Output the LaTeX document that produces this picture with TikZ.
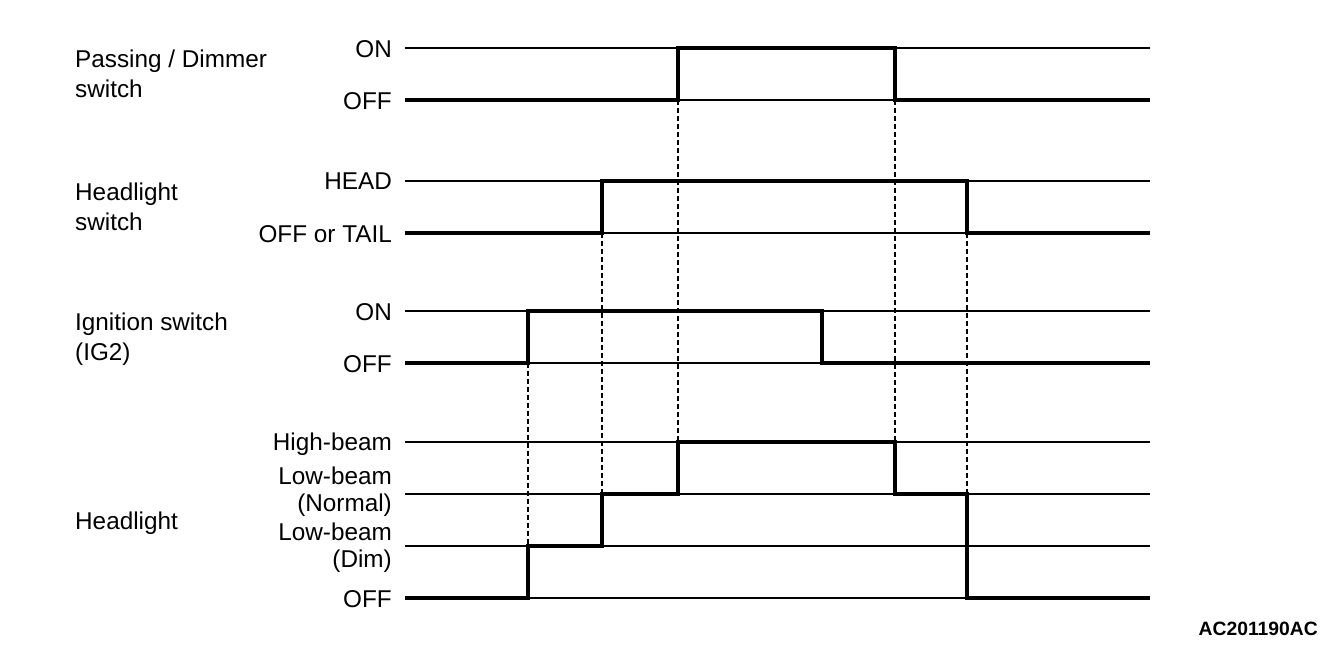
\documentclass[tikz,border=0pt]{standalone}
\usepackage{fontspec}
\setmainfont{Liberation Sans}
\begin{document}
\begin{tikzpicture}[x=1pt,y=-1pt,
  thinline/.style={line width=1.8pt},
  sig/.style={line width=4.4pt,line join=miter,line cap=butt},
  guide/.style={line width=1.2pt,dash pattern=on 5pt off 3pt},
  lbl/.style={inner sep=0pt,font=\fontsize{24.3}{28}\selectfont},
  lvl/.style={lbl,anchor=base east},
  grp/.style={lbl,anchor=base west}]
\useasboundingbox (0,0) rectangle (1344,662);
\def\xa{405}\def\xb{1150}
% reference lines
\foreach \y in {48,100,181,233,311,363,442,494,546,598}
  \draw[thinline] (\xa,\y) -- (\xb,\y);
% group labels
\node[grp] (g1a) at (75,67) {Passing / Dimmer};
\node[grp] (g1b) at (75,97) {switch};
\node[grp] (g2a) at (75,200) {Headlight};
\node[grp] (g2b) at (75,230) {switch};
\node[grp] (g3a) at (75,330) {Ignition switch};
\node[grp] (g3b) at (75,360) {(IG2)};
\node[grp] (g4) at (75,529) {Headlight};
% level labels
\node[lvl] (l1) at (392,57) {ON};
\node[lvl] (l2) at (392,109) {OFF};
\node[lvl] (l3) at (392,189) {HEAD};
\node[lvl] (l4) at (392,242) {OFF or TAIL};
\node[lvl] (l5) at (392,320) {ON};
\node[lvl] (l6) at (392,372) {OFF};
\node[lvl] (l7) at (392,450) {High-beam};
\node[lvl] (l8a) at (392,484) {Low-beam};
\node[lvl] (l8b) at (392,511) {(Normal)};
\node[lvl] (l9a) at (392,540) {Low-beam};
\node[lvl] (l9b) at (392,567) {(Dim)};
\node[lvl] (l10) at (392,607) {OFF};
% guide dashes
\draw[guide] (528,363) -- (528,546);
\draw[guide] (602,233) -- (602,494);
\draw[guide] (678,100) -- (678,442);
\draw[guide] (895,100) -- (895,442);
\draw[guide] (967,233) -- (967,494);
% signals
\draw[sig] (\xa,100) -- (678,100) -- (678,48) -- (895,48) -- (895,100) -- (\xb,100);
\draw[sig] (\xa,233) -- (602,233) -- (602,181) -- (967,181) -- (967,233) -- (\xb,233);
\draw[sig] (\xa,363) -- (528,363) -- (528,311) -- (822,311) -- (822,363) -- (\xb,363);
\draw[sig] (\xa,598) -- (528,598) -- (528,546) -- (602,546) -- (602,494) -- (678,494)
  -- (678,442) -- (895,442) -- (895,494) -- (967,494) -- (967,598) -- (\xb,598);
% code
\node[inner sep=0pt,anchor=base east,font=\fontsize{19.3}{22}\selectfont\bfseries] (code) at (1318,635) {AC201190AC};
\end{tikzpicture}
\end{document}
